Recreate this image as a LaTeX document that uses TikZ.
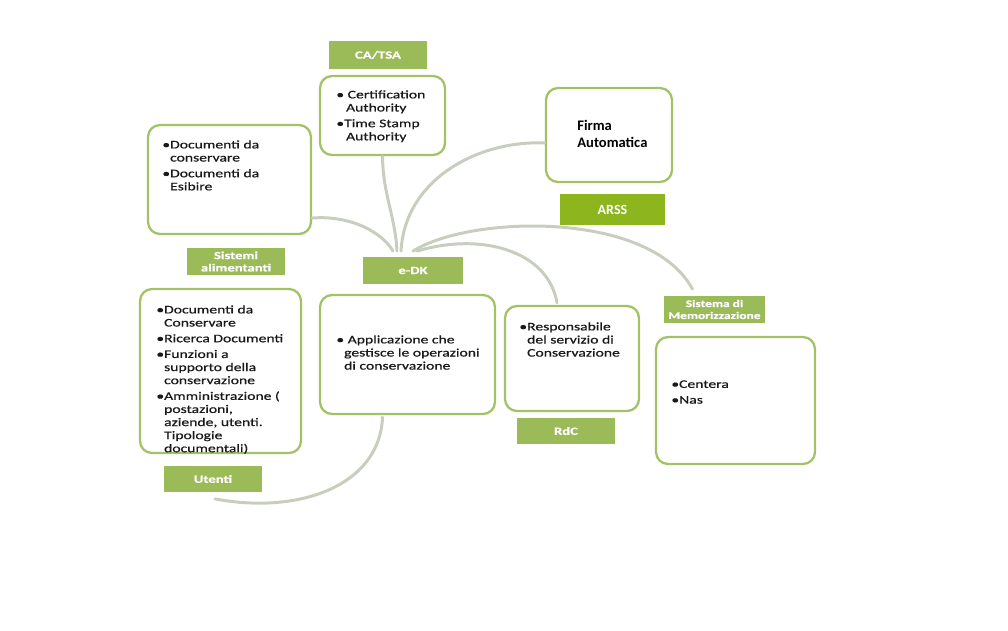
\documentclass[tikz,border=0pt]{standalone}
\usepackage{fontspec}
\setmainfont{Carlito}
\newfontfamily\widefont{Carlito}[FakeStretch=1.35,FakeBold=0.6]
\usetikzlibrary{shadows}
\definecolor{tagGreen}{RGB}{155,187,89}
\definecolor{arssGreen}{RGB}{141,182,30}
\definecolor{boxGreen}{RGB}{163,194,104}
\definecolor{linkGray}{RGB}{200,206,190}

\begin{document}
\begin{tikzpicture}[x=0.02cm,y=-0.02cm]
        \tikzstyle{every node} = [inner sep=0pt]
        \tikzstyle{panel} = [rectangle, rounded corners=0.24cm, draw=boxGreen, line width=1.3pt, fill=white]
        \tikzstyle{tag} = [rectangle, fill=tagGreen, draw=white, line width=1pt, text=white, align=center,
            font=\widefont\bfseries\fontsize{6.2}{7}\selectfont,
            drop shadow={shadow xshift=0.8pt, shadow yshift=-0.8pt, opacity=0.35}]
        \tikzstyle{txt} = [anchor=north west, align=left, text=black!90, font=\widefont\fontsize{6.6}{7.45}\selectfont]
        \tikzstyle{link} = [draw=linkGray, line width=1.7pt, line cap=round]
        \useasboundingbox (0,0) rectangle (1008,630);
        % boxes and labels
        \node[tag, minimum width=2cm, minimum height=0.6cm] (catsa) at (378,55) {CA/TSA};
        \node[panel, minimum width=2.5cm, minimum height=1.58cm] (ca) at (382.5,115.5) {};
        \node[panel, minimum width=2.52cm, minimum height=1.88cm] (firma) at (609,135) {};
        \node[tag, fill=arssGreen, font=\bfseries\fontsize{8}{9}\selectfont, minimum width=2.14cm, minimum height=0.66cm] (arss) at (612.5,209.5) {ARSS};
        \node[panel, minimum width=3.26cm, minimum height=2.18cm] (docs) at (229.5,179.5) {};
        \node[tag, minimum width=2cm, minimum height=0.58cm] (sisal) at (236,261.5) {Sistemi\\alimentanti};
        \node[tag, minimum width=2.04cm, minimum height=0.58cm] (edk) at (413,270.5) {e-DK};
        \node[panel, minimum width=3.22cm, minimum height=3.28cm] (uten) at (220.5,371) {};
        \node[tag, minimum width=2cm, minimum height=0.56cm] (utenlbl) at (213,479) {Utenti};
        \node[panel, minimum width=3.5cm, minimum height=2.38cm] (app) at (407.5,354.5) {};
        \node[panel, minimum width=2.68cm, minimum height=2.1cm] (rdc) at (572,358.5) {};
        \node[tag, minimum width=2cm, minimum height=0.56cm] (rdclbl) at (566,431) {RdC};
        \node[tag, font=\widefont\bfseries\fontsize{5.7}{6.8}\selectfont, minimum width=2.06cm, minimum height=0.58cm] (mem) at (714.5,309.5) {Sistema di\\Memorizzazione};
        \node[panel, minimum width=3.18cm, minimum height=2.54cm] (centera) at (735.5,400.5) {};
        % texts
        \node[txt] (catext) at (336,90) {\textbullet\ Certification\\\phantom{\textbullet\,}Authority\\[1.5pt]\textbullet Time Stamp\\\phantom{\textbullet\,}Authority};
        \node[anchor=north west, align=left, font=\bfseries\fontsize{8.3}{9.6}\selectfont] (firmatext) at (577,120) {Firma\\Automatica};
        \node[txt] (docstext) at (162,140) {\textbullet Documenti da\\\phantom{\textbullet}conservare\\[1.5pt]\textbullet Documenti da\\\phantom{\textbullet}Esibire};
        \node[txt] (utentext) at (156,305) {\textbullet Documenti da\\\phantom{\textbullet}Conservare\\[1.5pt]\textbullet Ricerca Documenti\\[1.5pt]\textbullet Funzioni a\\\phantom{\textbullet}supporto della\\\phantom{\textbullet}conservazione\\[1.5pt]\textbullet Amministrazione (\\\phantom{\textbullet}postazioni,\\\phantom{\textbullet}aziende, utenti.\\\phantom{\textbullet}Tipologie\\\phantom{\textbullet}documentali)};
        \node[txt] (apptext) at (336,335) {\textbullet\ Applicazione che\\\phantom{\textbullet}gestisce le operazioni\\\phantom{\textbullet}di conservazione};
        \node[txt] (rdctext) at (519,322) {\textbullet Responsabile\\\phantom{\textbullet}del servizio di\\\phantom{\textbullet}Conservazione};
        \node[txt] (centeratext) at (671,380) {\textbullet Centera\\[1.5pt]\textbullet Nas};
        % connectors
        \draw[link] (docs.-25) .. controls (350,215) and (382,232) .. ([shift={(-20,-4)}]edk.north);
        \draw[link] (ca.south) .. controls (383,195) and (395,215) .. ([shift={(-16,-4)}]edk.north);
        \draw[link] ([shift={(0,8)}]firma.west) .. controls (480,140) and (405,178) .. ([shift={(-12,-4)}]edk.north);
        \draw[link] ([shift={(0,-4)}]edk.north) .. controls (470,215) and (650,210) .. ([shift={(-22,-5)}]mem.north);
        \draw[link] ([shift={(4,-4)}]edk.north) .. controls (480,232) and (548,250) .. ([shift={(-15,-2)}]rdc.north);
        \draw[link] ([shift={(-25,2)}]app.south) .. controls (380,485) and (300,515) .. ([shift={(2,5)}]utenlbl.south);
\end{tikzpicture}
\end{document}
